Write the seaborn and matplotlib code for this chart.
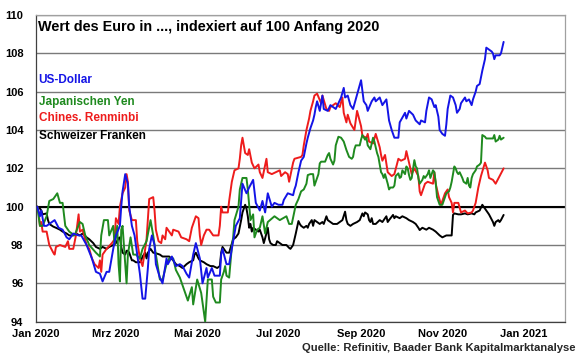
import matplotlib
matplotlib.use("Agg")
import matplotlib.pyplot as plt
import pandas as pd
import seaborn as sns

# Werte je Währung: (Tage seit 1.1.2020, Index)
usd = [(1, 100.0), (3, 99.5), (4, 99.8), (6, 99.0), (8, 99.0), (10, 99.1), (14, 99.3), (17, 98.9),
       (20, 98.8), (23, 98.4), (25, 98.3), (28, 98.6), (32, 98.5), (34, 98.5), (38, 98.0), (42, 97.3),
       (45, 96.6), (48, 96.5), (50, 96.1), (53, 96.6), (55, 96.6), (58, 97.8), (60, 98.5), (63, 99.0),
       (64, 100.0), (65, 100.8), (67, 101.7), (69, 101.2), (70, 100.0), (72, 99.0), (74, 98.5), (76, 97.5),
       (78, 96.5), (80, 95.2), (82, 95.2), (83, 96.0), (84, 96.8), (85, 97.8), (87, 98.5), (89, 98.0),
       (90, 97.0), (93, 96.3), (95, 96.0), (98, 97.3), (99, 97.0), (102, 97.4), (105, 96.9), (108, 97.0),
       (110, 96.9), (113, 96.5), (115, 96.3), (118, 97.5), (120, 98.1), (123, 97.3), (125, 96.0), (128, 96.8),
       (129, 96.3), (132, 96.8), (134, 96.4), (138, 96.4), (139, 97.5), (140, 97.8), (143, 97.0), (145, 97.0),
       (148, 98.2), (150, 99.0), (153, 99.4), (155, 101.2), (158, 100.7), (160, 101.0), (163, 101.4),
       (165, 100.2), (168, 99.8), (170, 100.3), (172, 99.7), (174, 100.7), (177, 100.0), (179, 100.2),
       (182, 100.1), (185, 100.1), (186, 100.35), (189, 100.7), (193, 100.6), (194, 100.9), (195, 101.1),
       (197, 101.8), (199, 102.4), (201, 102.6), (203, 103.3), (204, 103.6), (206, 104.1), (208, 104.5),
       (209, 104.8), (210, 105.2), (211, 105.5), (213, 105.0), (214, 105.4), (215, 105.8), (216, 105.1),
       (219, 105.0), (221, 105.3), (225, 105.1), (229, 105.7), (231, 106.2), (232, 105.7), (234, 105.8),
       (236, 105.3), (238, 105.1), (240, 105.6), (242, 106.1), (244, 106.6), (246, 105.5), (248, 105.3),
       (249, 105.0), (252, 105.5), (254, 105.7), (255, 105.5), (258, 105.7), (260, 105.3), (263, 105.6),
       (265, 104.5), (267, 104.0), (269, 103.6), (272, 103.6), (273, 104.4), (277, 104.9), (278, 104.6),
       (280, 105.0), (283, 104.8), (285, 104.5), (288, 104.3), (289, 104.5), (292, 104.4), (293, 105.0),
       (295, 105.7), (297, 105.6), (299, 105.2), (300, 105.3), (302, 104.7), (303, 104.0), (305, 103.8),
       (307, 103.7), (308, 104.3), (309, 105.1), (311, 105.8), (313, 105.7), (315, 105.3), (316, 104.9),
       (318, 105.1), (319, 105.4), (322, 105.7), (323, 105.5), (325, 105.6), (327, 105.3), (328, 105.6),
       (330, 106.0), (331, 106.3), (333, 106.4), (335, 107.1), (337, 107.7), (338, 108.3), (340, 108.2),
       (342, 108.1), (343, 108.0), (344, 107.7), (345, 107.9), (348, 107.9), (349, 108.0), (351, 108.6)]

jpy = [(1, 100.0), (3, 99.0), (5, 99.0), (8, 99.5), (10, 100.3), (13, 100.4), (16, 100.7), (18, 100.2),
       (20, 100.2), (22, 99.0), (25, 98.7), (29, 98.5), (33, 99.2), (35, 99.1), (37, 98.5), (40, 98.0),
       (45, 97.6), (48, 97.4), (49, 98.5), (51, 99.3), (54, 99.3), (55, 98.5), (58, 99.0), (59, 98.0),
       (61, 99.0), (62, 97.0), (63, 96.1), (64, 98.8), (65, 99.0), (67, 97.0), (68, 96.0), (69, 97.5),
       (71, 98.4), (73, 97.5), (75, 97.5), (78, 97.3), (80, 97.8), (83, 98.2), (86, 99.3), (88, 98.5),
       (90, 97.5), (93, 96.2), (95, 96.2), (98, 97.0), (100, 97.3), (103, 97.3), (105, 96.7), (108, 96.3),
       (110, 95.9), (112, 95.5), (114, 95.1), (117, 95.8), (118, 94.9), (121, 96.2), (124, 95.5), (127, 94.0),
       (129, 96.2), (132, 96.2), (133, 95.3), (135, 95.0), (138, 95.0), (139, 96.2), (141, 96.6), (142, 96.9),
       (143, 96.4), (145, 96.3), (147, 97.9), (148, 98.4), (149, 99.3), (152, 100.0), (153, 100.9),
       (155, 101.5), (158, 101.5), (159, 100.9), (161, 99.3), (163, 99.6), (164, 98.4), (166, 98.8),
       (168, 98.9), (170, 99.5), (172, 98.6), (174, 99.2), (179, 99.5), (183, 99.3), (188, 99.5), (190, 99.1),
       (192, 99.1), (195, 100.1), (197, 100.4), (199, 100.8), (201, 100.9), (203, 101.2), (204, 101.65),
       (206, 101.7), (208, 101.7), (209, 101.1), (210, 101.3), (212, 101.7), (213, 102.26), (214, 102.35),
       (217, 102.35), (219, 102.7), (220, 102.8), (221, 102.5), (223, 102.2), (224, 102.4), (225, 103.2),
       (227, 103.65), (229, 103.6), (231, 103.4), (233, 102.96), (235, 102.6), (237, 102.5), (238, 102.6),
       (239, 103.0), (240, 103.2), (243, 103.2), (244, 103.5), (245, 103.74), (247, 103.5), (248, 103.6),
       (249, 103.2), (251, 103.0), (253, 103.6), (254, 103.4), (255, 103.1), (256, 102.8), (257, 102.6),
       (259, 101.8), (260, 101.7), (261, 101.5), (262, 101.7), (264, 101.2), (265, 100.9), (266, 101.0),
       (268, 101.0), (269, 101.1), (270, 101.6), (272, 101.74), (273, 101.5), (274, 101.55), (275, 101.9),
       (277, 101.7), (278, 102.1), (279, 102.0), (280, 101.65), (281, 101.4), (282, 101.5), (284, 102.43),
       (285, 102.1), (286, 102.0), (287, 101.5), (288, 101.2), (290, 101.4), (291, 101.6), (292, 101.5),
       (294, 101.7), (295, 101.9), (296, 101.5), (298, 101.9), (299, 101.8), (300, 101.3), (301, 100.5),
       (303, 100.1), (305, 100.1), (307, 100.5), (308, 100.7), (310, 100.8), (311, 101.0), (312, 101.3),
       (314, 102.1), (315, 102.0), (316, 101.8), (317, 101.7), (318, 101.8), (320, 101.5), (321, 101.3),
       (323, 101.2), (324, 101.5), (325, 101.1), (326, 101.0), (327, 101.5), (328, 101.7), (330, 101.9),
       (331, 102.1), (333, 102.2), (334, 102.3), (335, 103.74), (337, 103.65), (338, 103.56), (340, 103.56),
       (343, 103.56), (344, 103.74), (345, 103.4), (347, 103.5), (348, 103.7), (349, 103.5), (351, 103.6)]

cny = [(1, 100.0), (2, 99.7), (3, 99.0), (4, 99.2), (5, 98.7), (8, 98.7), (10, 98.0), (13, 97.6),
       (14, 97.5), (15, 97.9), (18, 98.0), (22, 97.9), (24, 98.2), (25, 97.8), (28, 97.8), (30, 98.5),
       (32, 99.6), (33, 98.7), (35, 98.8), (38, 98.0), (40, 97.8), (42, 97.3), (44, 97.0), (47, 96.8),
       (48, 97.2), (49, 96.6), (50, 97.5), (53, 97.8), (57, 98.1), (59, 98.3), (60, 99.4), (62, 99.1),
       (63, 100.0), (65, 100.7), (67, 101.0), (68, 101.7), (69, 101.3), (70, 99.8), (72, 99.3), (75, 99.3),
       (76, 98.2), (78, 97.3), (80, 96.9), (82, 97.8), (83, 98.3), (85, 100.4), (88, 100.5), (89, 99.8),
       (90, 98.8), (92, 98.2), (94, 98.1), (95, 98.5), (97, 98.3), (98, 98.9), (102, 98.5), (103, 98.8),
       (107, 98.7), (109, 98.4), (113, 98.3), (115, 98.2), (117, 98.9), (120, 99.5), (122, 99.4), (123, 98.5),
       (124, 98.0), (126, 98.5), (128, 98.8), (130, 98.8), (133, 98.5), (137, 98.5), (138, 99.0), (139, 100.0),
       (140, 99.7), (144, 99.7), (145, 100.3), (147, 101.3), (149, 101.9), (152, 102.0), (153, 102.5),
       (154, 103.2), (155, 103.6), (157, 102.8), (159, 102.7), (160, 103.0), (162, 102.3), (164, 102.0),
       (167, 102.2), (168, 101.8), (170, 101.5), (173, 102.5), (174, 101.8), (177, 101.7), (180, 101.8),
       (183, 101.9), (184, 101.6), (187, 101.8), (189, 101.7), (190, 101.3), (193, 102.3), (194, 102.5),
       (199, 102.6), (200, 102.7), (201, 103.2), (203, 104.0), (204, 104.3), (205, 104.6), (206, 105.0),
       (208, 105.5), (209, 105.8), (211, 105.9), (214, 105.4), (215, 105.8), (218, 105.1), (220, 105.0),
       (221, 105.2), (225, 105.4), (228, 105.2), (230, 105.7), (231, 104.9), (233, 104.4), (234, 104.8),
       (236, 104.35), (239, 104.0), (241, 105.0), (244, 104.2), (245, 103.7), (248, 103.6), (249, 103.8),
       (250, 103.4), (253, 103.3), (255, 103.8), (258, 103.1), (259, 102.7), (260, 102.4), (262, 102.7),
       (264, 101.8), (267, 101.6), (269, 101.7), (272, 102.5), (274, 102.4), (277, 102.5), (278, 102.9),
       (280, 102.3), (282, 101.7), (284, 102.0), (287, 101.6), (288, 100.8), (289, 100.6), (292, 101.2),
       (294, 101.3), (298, 101.2), (299, 101.8), (300, 101.2), (302, 100.6), (304, 100.1), (307, 100.7),
       (309, 100.9), (310, 100.5), (312, 100.2), (313, 99.7), (314, 100.2), (317, 100.2), (319, 99.7),
       (322, 99.8), (324, 99.65), (327, 99.7), (328, 99.8), (330, 100.2), (332, 101.0), (334, 101.6),
       (337, 102.3), (339, 101.9), (340, 101.5), (343, 101.4), (345, 101.2), (348, 101.6), (351, 102.0)]

chf = [(1, 100.0), (3, 99.9), (4, 99.8), (5, 99.6), (8, 99.65), (9, 99.3), (10, 99.1), (13, 98.96),
       (15, 98.9), (18, 98.8), (20, 98.7), (23, 98.6), (25, 98.5), (28, 98.5), (30, 98.6), (33, 98.5),
       (35, 98.6), (38, 98.4), (40, 98.3), (43, 98.1), (45, 97.9), (48, 97.8), (50, 97.9), (53, 97.8),
       (55, 97.9), (58, 98.0), (60, 98.1), (62, 98.35), (63, 98.4), (64, 97.9), (65, 97.6), (67, 97.5),
       (68, 97.7), (69, 97.7), (70, 97.6), (72, 97.2), (73, 97.2), (75, 97.1), (78, 97.1), (79, 97.2),
       (80, 97.4), (82, 97.6), (83, 97.3), (84, 97.6), (86, 97.8), (87, 97.7), (88, 97.6), (90, 97.57),
       (93, 97.5), (95, 97.4), (98, 97.4), (100, 97.4), (103, 97.2), (105, 97.0), (108, 96.9), (110, 96.8),
       (113, 97.0), (115, 97.1), (118, 97.2), (119, 97.5), (120, 97.6), (122, 97.3), (123, 97.2), (126, 97.1),
       (128, 97.0), (131, 96.9), (133, 96.9), (136, 96.8), (138, 96.9), (139, 97.6), (140, 97.9), (142, 97.7),
       (143, 97.6), (145, 97.6), (148, 98.3), (150, 98.4), (151, 98.5), (152, 98.6), (154, 99.3), (155, 99.7),
       (157, 100.1), (158, 99.9), (159, 99.5), (160, 98.9), (161, 99.1), (162, 98.7), (163, 98.9), (165, 98.8),
       (167, 98.7), (168, 98.8), (170, 98.4), (171, 98.1), (172, 98.35), (174, 98.9), (175, 98.3), (176, 98.1),
       (178, 98.0), (180, 98.0), (181, 98.2), (183, 98.1), (185, 98.0), (188, 98.0), (190, 97.85), (191, 97.8),
       (193, 98.0), (195, 98.6), (197, 99.25), (198, 99.1), (199, 99.0), (201, 98.9), (203, 99.0), (204, 98.9),
       (205, 99.1), (207, 99.3), (208, 99.0), (209, 99.3), (211, 99.2), (213, 99.1), (215, 99.2), (216, 99.1),
       (218, 99.5), (219, 99.3), (221, 99.2), (223, 99.1), (226, 99.1), (228, 99.2), (230, 99.3), (232, 99.74),
       (233, 99.3), (234, 99.1), (236, 99.0), (238, 99.1), (241, 99.2), (243, 99.3), (245, 99.65), (246, 99.5),
       (247, 99.7), (249, 99.6), (250, 99.3), (251, 99.2), (252, 99.4), (253, 99.1), (255, 99.1), (258, 99.3),
       (260, 99.2), (262, 99.4), (263, 99.5), (264, 99.2), (265, 99.3), (268, 99.57), (269, 99.4), (270, 99.5),
       (273, 99.4), (275, 99.5), (278, 99.4), (280, 99.3), (283, 99.2), (285, 99.1), (287, 98.9), (288, 98.78),
       (290, 98.9), (293, 98.8), (295, 98.9), (298, 98.8), (300, 98.7), (303, 98.5), (305, 98.4), (308, 98.5),
       (311, 98.5), (312, 98.5), (313, 99.57), (314, 99.65), (317, 99.6), (319, 99.6), (322, 99.65), (324, 99.6),
       (327, 99.65), (329, 99.6), (330, 99.7), (333, 99.8), (335, 100.1), (336, 100.0), (338, 99.8), (340, 99.6),
       (343, 99.2), (344, 99.0), (345, 99.2), (347, 99.3), (348, 99.2), (349, 99.3), (351, 99.57)]

series_names = ["US-Dollar", "Japanischen Yen", "Chines. Renminbi", "Schweizer Franken"]
series_colors = ["#1414e6", "#1f8a1f", "#ee1c1c", "#000000"]
x_tick_labels = ["Jan 2020", "Mrz 2020", "Mai 2020", "Jul 2020", "Sep 2020", "Nov 2020", "Jan 2021"]
y_ticks = [94, 96, 98, 100, 102, 104, 106, 108, 110]

start = pd.Timestamp("2020-01-01")
frames = []
for name, data in zip(series_names, [usd, jpy, cny, chf]):
    d = pd.DataFrame(data, columns=["tag", "wert"])
    d["datum"] = start + pd.to_timedelta(d["tag"], unit="D")
    d["serie"] = name
    frames.append(d)
df = pd.concat(frames, ignore_index=True)

sns.set_style("white")
plt.rcParams["font.family"] = ["Liberation Sans", "DejaVu Sans"]
plt.rcParams["font.weight"] = "bold"

fig = plt.figure(figsize=(5.8, 3.59), dpi=100)
ax = fig.add_axes([0.062, 0.104, 0.912, 0.854])

# draw in reverse so the blue line ends up on top like the original
sns.lineplot(data=df, x="datum", y="wert", hue="serie", hue_order=series_names[::-1],
             palette=dict(zip(series_names, series_colors)), estimator=None, sort=False,
             lw=1.4, legend=False, ax=ax, zorder=3)

ax.set_ylim(94, 110)
ax.set_yticks(y_ticks)
ax.set_yticklabels([str(v) for v in y_ticks], fontsize=8, fontweight="bold")
ax.set_xlim(start, pd.Timestamp("2021-02-01"))
ax.set_xticks(pd.date_range("2020-01-01", "2021-01-01", freq="2MS"))
ax.set_xticklabels(x_tick_labels, fontsize=8, fontweight="bold")
ax.set_xlabel("")
ax.set_ylabel("")
ax.tick_params(axis="both", direction="out", length=3, width=0.8, colors="black", pad=2)
ax.tick_params(axis="y", pad=6)

# horizontal grid, with the 100 line in black
ax.set_axisbelow(True)
ax.yaxis.grid(True, color="#7a7a7a", lw=1.0)
ax.xaxis.grid(False)
ax.axhline(100, color="black", lw=1.5, zorder=2)

for side in ["left", "bottom"]:
    ax.spines[side].set_color("#404040")
    ax.spines[side].set_linewidth(0.9)
for side in ["top", "right"]:
    ax.spines[side].set_color("#a0a0a0")
    ax.spines[side].set_linewidth(0.9)

ax.text(0.004, 0.961, "Wert des Euro in ..., indexiert auf 100 Anfang 2020", transform=ax.transAxes,
        fontsize=10.4, fontweight="bold", ha="left", va="center", color="black")

label_y = [0.788, 0.718, 0.665, 0.605]
for name, col, yy in zip(series_names, series_colors, label_y):
    ax.text(0.005, yy, name, transform=ax.transAxes, fontsize=8.5, fontweight="bold",
            color=col, ha="left", va="center")

fig.text(0.993, 0.031, "Quelle: Refinitiv, Baader Bank Kapitalmarktanalyse", fontsize=8.1,
         fontweight="bold", ha="right", va="center")

fig.savefig("out.png", dpi=100)
